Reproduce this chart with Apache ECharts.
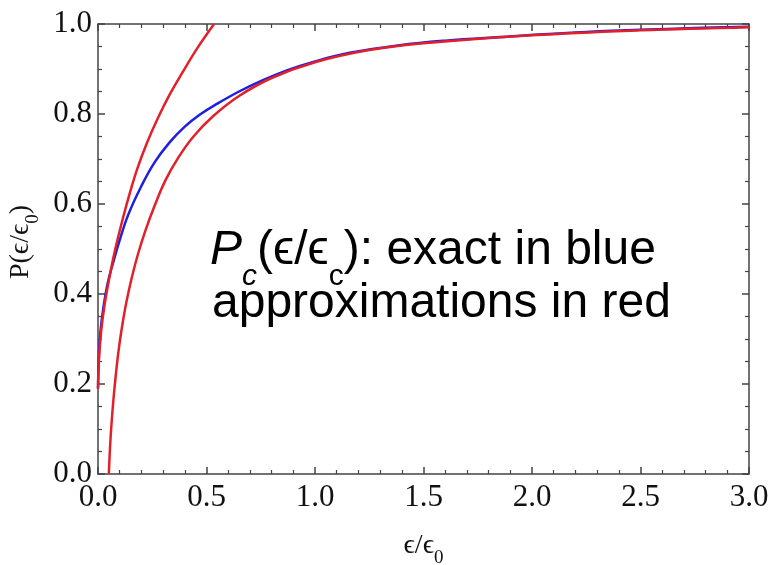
<!DOCTYPE html>
<html>
<head>
<meta charset="utf-8">
<script src="https://cdn.jsdelivr.net/npm/echarts@6.0.0/dist/echarts.min.js"></script>
<style>
  html, body { margin: 0; padding: 0; background: #fff; }
  #chart { width: 771px; height: 565px; }
</style>
</head>
<body>
<div id="chart"></div>
<script>
// exact curve (blue)
const blueX = [0, 0.004, 0.012, 0.025, 0.045, 0.07, 0.1, 0.14, 0.2, 0.26, 0.33, 0.4, 0.47, 0.55, 0.65, 0.75, 0.87, 1.0, 1.16, 1.39, 1.6, 1.85, 2.2, 2.5, 2.75, 3.0];
const blueY = [0.19, 0.26, 0.32, 0.37, 0.425, 0.47, 0.52, 0.577, 0.64, 0.692, 0.737, 0.772, 0.799, 0.823, 0.85, 0.873, 0.897, 0.917, 0.936, 0.953, 0.963, 0.971, 0.981, 0.987, 0.991, 0.994];
// small-x approximation (red)
const redAX = [0, 0.005, 0.015, 0.03, 0.05, 0.075, 0.105, 0.14, 0.18, 0.225, 0.275, 0.33, 0.39, 0.46, 0.535];
const redAY = [0.19, 0.26, 0.32, 0.375, 0.43, 0.49, 0.55, 0.613, 0.677, 0.735, 0.79, 0.843, 0.893, 0.948, 1.0];
// large-x approximation (red)
const redBX = [0.05, 0.055, 0.062, 0.071, 0.082, 0.095, 0.11, 0.13, 0.155, 0.185, 0.22, 0.26, 0.31, 0.37, 0.44, 0.53, 0.65, 0.8, 1.0, 1.25, 1.5, 2.0, 2.5, 3.0];
const redBY = [0, 0.055, 0.11, 0.165, 0.22, 0.275, 0.325, 0.38, 0.435, 0.49, 0.543, 0.595, 0.652, 0.703, 0.75, 0.795, 0.84, 0.88, 0.915, 0.942, 0.957, 0.975, 0.986, 0.993];

const xTicks = { min: 0, max: 3, interval: 0.5, minor: 5 };
const yTicks = { min: 0, max: 1, interval: 0.2, minor: 4 };

const blue = "#1f1fe0";
const red = "#e3202a";
const serif = '"Liberation Serif", "DejaVu Serif", serif';
const sans = '"Liberation Sans", Arial, sans-serif';
const axisColor = "#444";

const zip = (xs, ys) => xs.map((x, i) => [x, ys[i]]);

function frameAxis(t, pos, showLabel, extra) {
  return Object.assign({
    type: "value",
    position: pos,
    min: t.min,
    max: t.max,
    interval: t.interval,
    axisLine: { show: true, onZero: false, lineStyle: { color: axisColor, width: 1.5 } },
    axisTick: { show: true, inside: true, length: 7, lineStyle: { color: axisColor, width: 1.5 } },
    minorTick: { show: true, splitNumber: t.minor, length: 4, lineStyle: { color: axisColor, width: 1.2 } },
    splitLine: { show: false },
    axisLabel: {
      show: showLabel,
      formatter: (v) => v.toFixed(1),
      fontFamily: serif,
      fontSize: 31,
      color: "#111",
    },
  }, extra || {});
}

const line = (data, color) => ({
  type: "line",
  data: data,
  showSymbol: false,
  smooth: 0.4,
  lineStyle: { color: color, width: 2.5 },
  animation: false,
});

const nameRich = {
  a: { fontFamily: serif, fontSize: 28, color: "#111", verticalAlign: "top", lineHeight: 32 },
  s: { fontFamily: serif, fontSize: 19, color: "#111", verticalAlign: "top", lineHeight: 19, padding: [17, 0, 0, 0] },
};

const chart = echarts.init(document.getElementById("chart"));
chart.setOption({
  animation: false,
  grid: { left: 98, right: 22, top: 24, bottom: 91, outerBoundsMode: "none" },
  xAxis: [
    frameAxis(xTicks, "bottom", true, {
      name: "{a|ϵ/ϵ}{s|0}",
      nameLocation: "middle",
      nameGap: 58,
      nameTextStyle: { rich: nameRich },
    }),
    frameAxis(xTicks, "top", false),
  ],
  yAxis: [
    frameAxis(yTicks, "left", true, {
      axisLabel: {
        formatter: (v) => v.toFixed(1),
        fontFamily: serif,
        fontSize: 31,
        color: "#111",
        margin: 6,
      },
      name: "{a|P(ϵ/ϵ}{s|0}{a|)}",
      nameLocation: "middle",
      nameRotate: 90,
      nameGap: 56,
      nameTextStyle: { padding: [0, 0, 0, 14], rich: nameRich },
    }),
    frameAxis(yTicks, "right", false),
  ],
  series: [
    line(zip(blueX, blueY), blue),
    line(zip(redAX, redAY), red),
    line(zip(redBX, redBY), red),
  ],
  graphic: [
    {
      type: "text",
      left: 210,
      top: 227,
      style: {
        text: "{p|P}{c|c}{n|(ϵ/ϵ}{s|c}{n|): exact in blue}",
        rich: {
          p: { fontFamily: sans, fontSize: 48, fontStyle: "italic", fill: "#000", verticalAlign: "top", lineHeight: 56 },
          c: { fontFamily: sans, fontSize: 30, fontStyle: "italic", fill: "#000", verticalAlign: "top", lineHeight: 30, padding: [35, 0, 0, 0] },
          n: { fontFamily: sans, fontSize: 48, fill: "#000", verticalAlign: "top", lineHeight: 56 },
          s: { fontFamily: sans, fontSize: 30, fill: "#000", verticalAlign: "top", lineHeight: 30, padding: [35, 0, 0, 0] },
        },
      },
    },
    {
      type: "text",
      left: 212,
      top: 280,
      style: {
        text: "approximations in red",
        font: "48px " + sans,
        fill: "#000",
      },
    },
  ],
});
</script>
</body>
</html>
